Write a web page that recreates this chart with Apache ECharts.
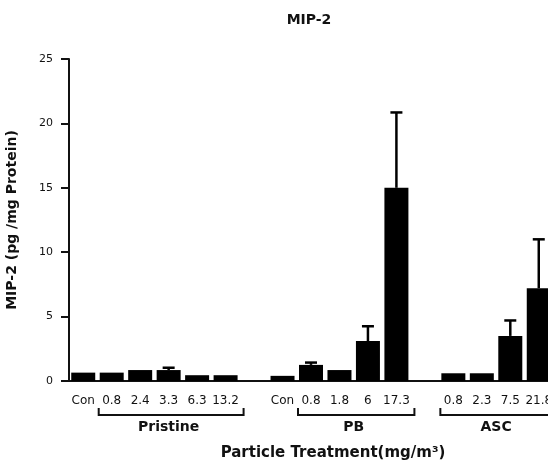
<!DOCTYPE html>
<html>
<head>
<meta charset="utf-8">
<script src="https://cdn.jsdelivr.net/npm/echarts@6/dist/echarts.min.js"></script>
<style>
  html, body { margin: 0; padding: 0; background: #fff; }
  #main { width: 548px; height: 464px; }
</style>
</head>
<body>
<div id="main"></div>
<script>
// doses per group, blank slots separate the groups
var categories = ['Con', '0.8', '2.4', '3.3', '6.3', '13.2', '',
                  'Con', '0.8', '1.8', '6', '17.3', '',
                  '0.8', '2.3', '7.5', '21.8'];
var means = [0.65, 0.65, 0.85, 0.85, 0.45, 0.45, null,
             0.4, 1.25, 0.85, 3.1, 15.0, null,
             0.6, 0.6, 3.5, 7.2];
var errors = [0, 0, 0, 0.18, 0, 0, null,
              0, 0.18, 0, 1.15, 5.85, null,
              0, 0, 1.2, 3.8];
var yTicks = [0, 25, 5];   // min, max, interval

var groupNames = ['Pristine', 'PB', 'ASC'];
var groupFirst = [1, 8, 13];
var groupLast = [5, 11, 16];

var FONT = 'DejaVu Sans';
var INK = '#111';

var chart = echarts.init(document.getElementById('main'), null, { renderer: 'canvas' });

var errData = means.map(function (m, i) {
  return m == null ? [i, null, null] : [i, m, errors[i]];
});

chart.setOption({
  animation: false,
  backgroundColor: '#fff',
  grid: { left: 69, right: -5, top: 59, bottom: 83, containLabel: false, outerBoundsMode: 'none' },
  xAxis: {
    type: 'category',
    data: categories,
    axisLine: { lineStyle: { color: INK, width: 2 } },
    axisTick: { alignWithLabel: true, interval: 0, length: 8, lineStyle: { color: INK, width: 2 } },
    axisLabel: { interval: 0, margin: 14, color: INK, fontFamily: FONT, fontSize: 12 },
    splitLine: { show: false }
  },
  yAxis: {
    type: 'value',
    min: yTicks[0], max: yTicks[1], interval: yTicks[2],
    name: 'MIP-2 (pg /mg Protein)',
    nameLocation: 'middle',
    nameGap: 50,
    nameRotate: 90,
    nameTextStyle: { color: INK, fontFamily: FONT, fontSize: 14, fontWeight: 'bold' },
    axisLine: { show: true, lineStyle: { color: INK, width: 2 } },
    axisTick: { show: true, length: 8, lineStyle: { color: INK, width: 2 } },
    axisLabel: { margin: 16, color: INK, fontFamily: FONT, fontSize: 11 },
    splitLine: { show: false }
  },
  series: [
    {
      type: 'bar',
      data: means,
      barWidth: 24,
      itemStyle: { color: '#000' },
      z: 2
    },
    {
      type: 'custom',
      data: errData,
      z: 3,
      renderItem: function (params, api) {
        var m = api.value(1), e = api.value(2);
        if (m == null || isNaN(m) || !e) return;
        var base = api.coord([api.value(0), m]);
        var top = api.coord([api.value(0), m + e]);
        var half = 6;
        return {
          type: 'group',
          children: [
            { type: 'line', shape: { x1: base[0], y1: base[1], x2: top[0], y2: top[1] },
              style: { stroke: '#000', lineWidth: 2.5 } },
            { type: 'line', shape: { x1: top[0] - half, y1: top[1], x2: top[0] + half, y2: top[1] },
              style: { stroke: '#000', lineWidth: 2.5 } }
          ]
        };
      }
    }
  ]
});

// title, x axis name and group brackets, placed from the category scale
var graphics = [
  { type: 'text', x: 309, y: 20, style: { text: 'MIP-2', fill: INK, font: 'bold 14px ' + FONT, align: 'center', verticalAlign: 'middle' } },
  { type: 'text', x: 333, y: 453, style: { text: 'Particle Treatment(mg/m³)', fill: INK, font: 'bold 15px ' + FONT, align: 'center', verticalAlign: 'middle' } }
];

var bracketY = 415;
groupNames.forEach(function (name, g) {
  var x0 = chart.convertToPixel({ xAxisIndex: 0 }, groupFirst[g]) - 13;
  var x1 = chart.convertToPixel({ xAxisIndex: 0 }, groupLast[g]) + 18;
  var mid = (chart.convertToPixel({ xAxisIndex: 0 }, groupFirst[g]) +
             chart.convertToPixel({ xAxisIndex: 0 }, groupLast[g])) / 2;
  graphics.push({
    type: 'polyline',
    shape: { points: [[x0, bracketY - 7], [x0, bracketY], [x1, bracketY], [x1, bracketY - 7]] },
    style: { stroke: INK, lineWidth: 2, fill: null }
  });
  graphics.push({
    type: 'text', x: mid, y: 427,
    style: { text: name, fill: INK, font: 'bold 14px ' + FONT, align: 'center', verticalAlign: 'middle' }
  });
});

chart.setOption({ graphic: graphics });
</script>
</body>
</html>
